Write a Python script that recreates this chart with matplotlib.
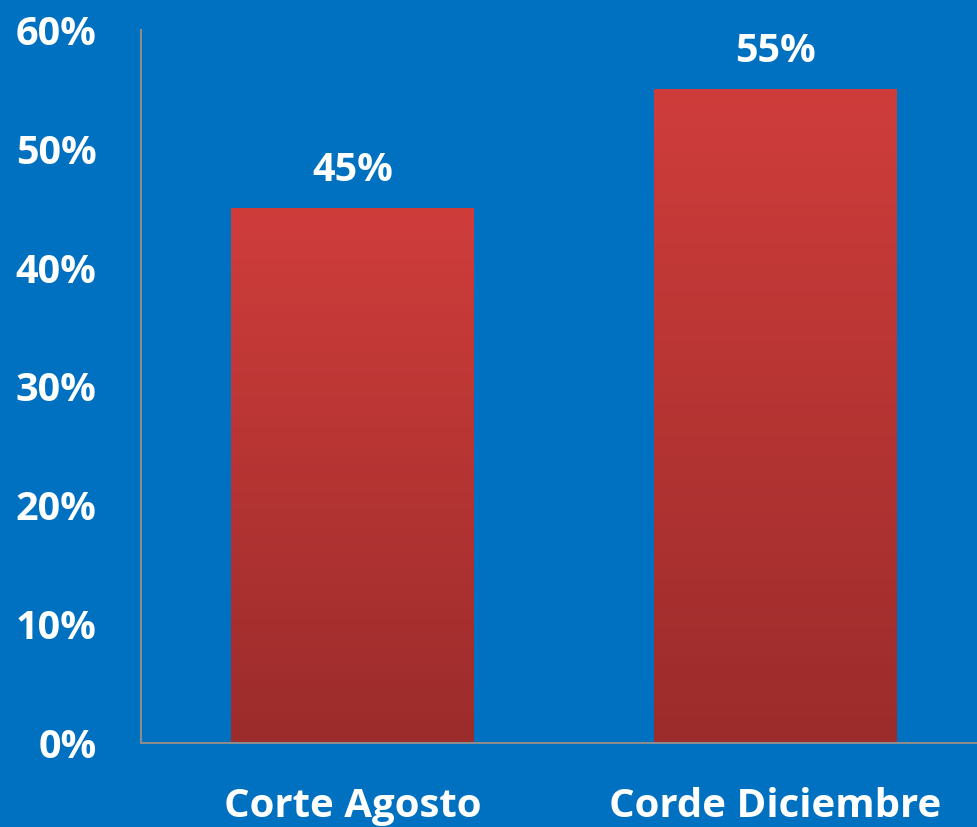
import matplotlib
matplotlib.use("Agg")
import matplotlib.pyplot as plt
import numpy as np
from matplotlib.colors import LinearSegmentedColormap

# data
categories = ["Corte Agosto", "Corde Diciembre"]
values = [45, 55]
yticks = [0, 10, 20, 30, 40, 50, 60]

bg = "#0070C0"
plt.rcParams['font.family'] = ['Open Sans', 'DejaVu Sans']
plt.rcParams['font.weight'] = 'bold'

fig = plt.figure(figsize=(9.77, 8.27), dpi=100, facecolor=bg)
ax = fig.add_axes([0.1443, 0.1016, 0.8659, 0.8621])
ax.set_facecolor(bg)

x = np.arange(len(categories))
bars = ax.bar(x, values, width=0.574, color="none", edgecolor="none")

# vertical red gradient inside each bar
cmap = LinearSegmentedColormap.from_list("redgrad", ["#9B2C2B", "#CF3D3B"])
grad = np.linspace(0, 1, 256).reshape(-1, 1)
for b in bars:
    x0, w, h = b.get_x(), b.get_width(), b.get_height()
    im = ax.imshow(grad, cmap=cmap, origin="lower", aspect="auto",
                   extent=[x0, x0 + w, 0, h], zorder=2)
    im.set_clip_path(b)
    ax.annotate(f"{h:.0f}%", (x0 + w / 2, h), xytext=(0, 13),
                textcoords="offset points", ha="center", va="bottom",
                color="white", fontsize=28.5, fontweight="bold")

ax.set_xlim(-0.5, 1.5)
ax.set_ylim(0, 60)
ax.set_yticks(yticks)
ax.set_yticklabels([f"{t}%" for t in yticks])
ax.set_xticks(x)
ax.set_xticklabels(categories)

ax.tick_params(axis="y", length=0, pad=32, labelsize=28.5, labelcolor="white")
ax.tick_params(axis="x", length=0, pad=32, labelsize=29, labelcolor="white")
for lab in ax.get_xticklabels() + ax.get_yticklabels():
    lab.set_fontweight("bold")

for s in ["top", "right"]:
    ax.spines[s].set_visible(False)
for s in ["left", "bottom"]:
    ax.spines[s].set_color("#8C8C8C")
    ax.spines[s].set_linewidth(1.5)

fig.savefig("out.png", dpi=100, facecolor=bg)
